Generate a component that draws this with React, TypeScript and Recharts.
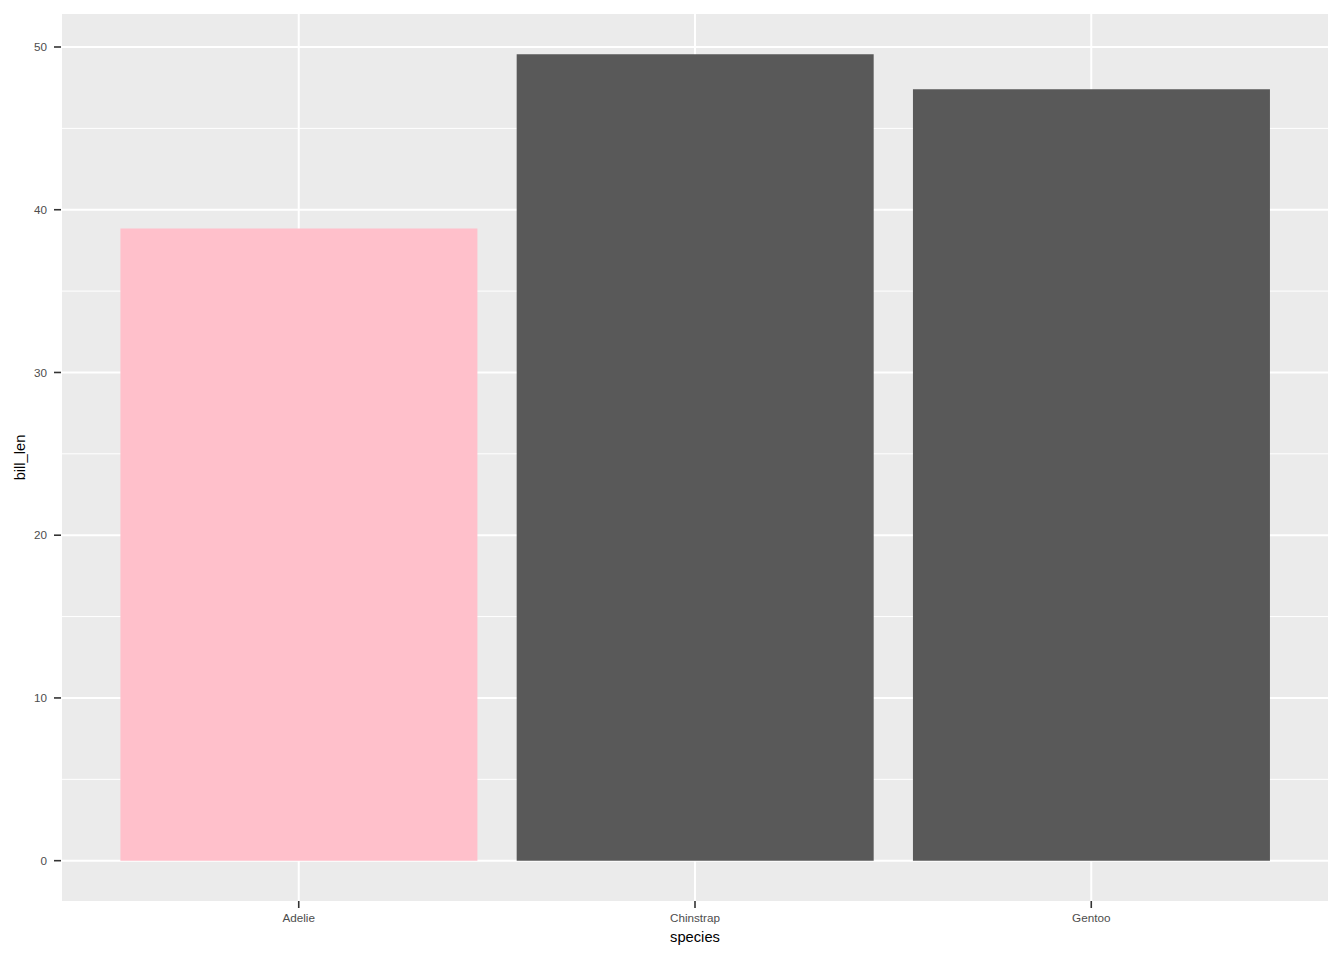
import React from 'react';
import { BarChart, Bar, XAxis, YAxis, CartesianGrid, Cell, Label } from 'recharts';

const species = ['Adelie', 'Chinstrap', 'Gentoo'];
const billLen = [38.85, 49.55, 47.4];
const barColors = ['#FFC0CB', '#595959', '#595959'];
const yMajorTicks = [0, 10, 20, 30, 40, 50];
const yMinorTicks = [5, 15, 25, 35, 45];

const data = species.map((s, i) => ({ species: s, bill_len: billLen[i] }));

const maxVal = Math.max(...billLen);
const pad = maxVal * 0.05;
const yDomain = [-pad, maxVal + pad];

const FONT = '"Liberation Sans", Arial, Helvetica, sans-serif';

const YTitle = (props: any) => {
  const vb = props.viewBox;
  const x = vb.x + 20;
  const y = vb.y + vb.height / 2;
  return (
    <text x={x} y={y} transform={`rotate(-90 ${x} ${y})`} textAnchor="middle" dominantBaseline="central"
      fontFamily={FONT} fontSize={14.7} fill="#000000">bill_len</text>
  );
};

const XTitle = (props: any) => {
  const vb = props.viewBox;
  const x = vb.x + vb.width / 2;
  const y = 937;
  return (
    <text x={x} y={y} textAnchor="middle" dominantBaseline="central"
      fontFamily={FONT} fontSize={14.7} fill="#000000">species</text>
  );
};

export default function App() {
  return (
    <div style={{ position: 'absolute', left: 0, top: 0, width: 1344, height: 960, background: '#ffffff' }}>
      <BarChart
        width={1344}
        height={960}
        data={data}
        margin={{ top: 14, right: 15, bottom: 0, left: 0 }}
        barCategoryGap="5%"
      >
        <CartesianGrid
          fill="#EBEBEB"
          stroke="#FFFFFF"
          strokeWidth={1}
          horizontalValues={yMinorTicks}
          vertical={false}
        />
        <CartesianGrid
          stroke="#FFFFFF"
          strokeWidth={2}
          horizontalValues={yMajorTicks}
          vertical={true}
        />
        <XAxis
          dataKey="species"
          type="category"
          height={59}
          padding={{ left: 39.6, right: 39.6 }}
          axisLine={false}
          tickSize={7}
          tickMargin={6}
          tickLine={{ stroke: '#333333', strokeWidth: 1.6 }}
          tick={{ fill: '#4D4D4D', fontSize: 11.7, fontFamily: FONT }}
        >
          <Label content={<XTitle />} />
        </XAxis>
        <YAxis
          type="number"
          width={61}
          domain={yDomain}
          allowDataOverflow
          ticks={yMajorTicks}
          interval={0}
          axisLine={false}
          tickSize={7}
          tickMargin={7}
          tickLine={{ stroke: '#333333', strokeWidth: 1.6 }}
          tick={{ fill: '#4D4D4D', fontSize: 11.7, fontFamily: FONT }}
        >
          <Label content={<YTitle />} />
        </YAxis>
        <Bar dataKey="bill_len" isAnimationActive={false}>
          {data.map((d, i) => (
            <Cell key={d.species} fill={barColors[i]} />
          ))}
        </Bar>
      </BarChart>
    </div>
  );
}
